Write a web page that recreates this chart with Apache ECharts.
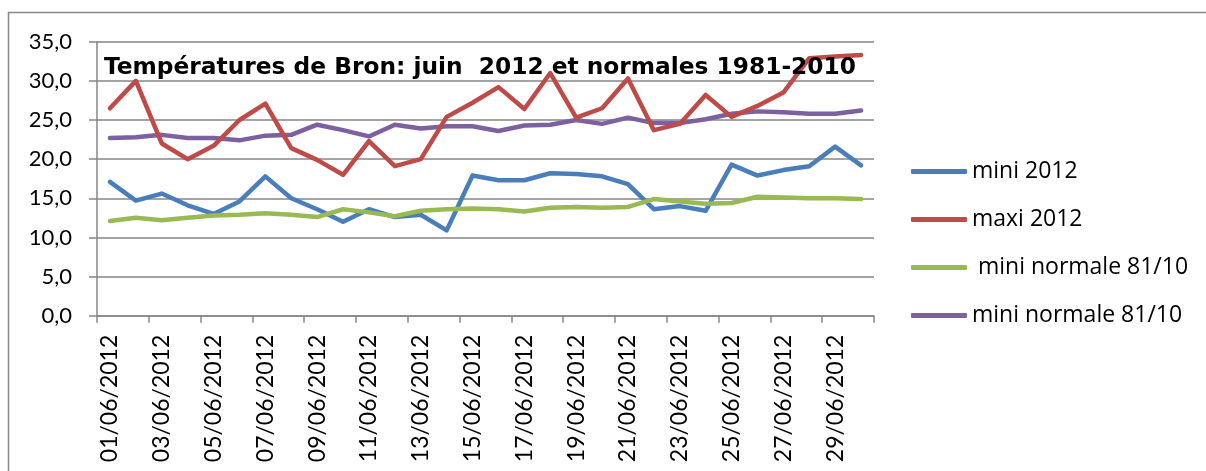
<!DOCTYPE html>
<html><head><meta charset="utf-8">
<script src="https://cdn.jsdelivr.net/npm/echarts@6/dist/echarts.min.js"></script>
<style>html,body{margin:0;padding:0;background:#fff}#c{width:1206px;height:471px}</style>
</head><body><div id="c"></div>
<script>
const categories = ['01/06/2012','02/06/2012','03/06/2012','04/06/2012','05/06/2012','06/06/2012','07/06/2012','08/06/2012','09/06/2012','10/06/2012','11/06/2012','12/06/2012','13/06/2012','14/06/2012','15/06/2012','16/06/2012','17/06/2012','18/06/2012','19/06/2012','20/06/2012','21/06/2012','22/06/2012','23/06/2012','24/06/2012','25/06/2012','26/06/2012','27/06/2012','28/06/2012','29/06/2012','30/06/2012'];
const mini2012 = [17.1,14.7,15.6,14.1,13.0,14.6,17.8,15.0,13.6,12.0,13.6,12.6,12.9,10.9,17.9,17.3,17.3,18.2,18.1,17.8,16.8,13.6,14.0,13.4,19.3,17.9,18.6,19.1,21.6,19.2];
const maxi2012 = [26.5,30.0,22.0,20.0,21.7,25.0,27.1,21.4,19.9,18.0,22.3,19.1,20.0,25.4,27.2,29.2,26.4,31.0,25.3,26.5,30.3,23.7,24.5,28.2,25.4,26.8,28.5,32.9,33.1,33.3];
const miniNormale = [12.1,12.5,12.2,12.5,12.8,12.9,13.1,12.9,12.6,13.6,13.2,12.7,13.4,13.6,13.7,13.6,13.3,13.8,13.9,13.8,13.9,14.9,14.6,14.3,14.4,15.2,15.1,15.0,15.0,14.9];
const maxiNormale = [22.7,22.8,23.1,22.7,22.7,22.4,23.0,23.1,24.4,23.7,22.9,24.4,23.9,24.2,24.2,23.6,24.3,24.4,25.0,24.5,25.3,24.6,24.6,25.1,25.8,26.1,26.0,25.8,25.8,26.2];
const seriesNames = ['mini 2012','maxi 2012',' mini normale 81/10','mini normale 81/10'];
const titleText = 'Températures de Bron: juin  2012 et normales 1981-2010';

const colors = ['#4a7ebb','#be4b48','#98b954','#7d60a0'];
const chart = echarts.init(document.getElementById('c'), null, {renderer:'canvas'});
const mk = (name, data, i) => ({
  name, type:'line', data, symbol:'none', smooth:false,
  lineStyle:{color:colors[i], width:4.5, cap:'round', join:'round'},
  itemStyle:{color:colors[i]}, z: 2 + (i===1?1:0)
});
chart.setOption({
  animation:false,
  textStyle:{fontFamily:'Lato'},
  title:{text:titleText, left:104, top:56, padding:0,
    textStyle:{fontFamily:'DejaVu Sans', fontWeight:'bold', fontSize:23.3, color:'#000'}},
  legend:{orient:'vertical', left:911, top:160, itemWidth:56, itemHeight:5, itemGap:25,
    icon:'roundRect', padding:0,
    textStyle:{fontFamily:'Open Sans', fontSize:23, color:'#000', lineHeight:23},
    data:seriesNames},
  graphic:[{type:'rect', shape:{x:8.5, y:12.5, width:1400, height:600},
    style:{fill:null, stroke:'#878787', lineWidth:1.5}, silent:true}],
  grid:{left:97, right:332, top:41.7, bottom:155.3, containLabel:false},
  xAxis:{type:'category', data:categories, boundaryGap:true,
    axisLine:{lineStyle:{color:'#868686', width:1.5}},
    axisTick:{show:true, length:7, interval:1, lineStyle:{color:'#868686', width:1.5}},
    axisLabel:{interval:1, rotate:90, margin:19, fontFamily:'Lato', fontSize:23, color:'#000'}},
  yAxis:{type:'value', min:0, max:35, interval:5,
    axisLine:{show:true, lineStyle:{color:'#868686', width:1.5}},
    axisTick:{show:true, length:8, lineStyle:{color:'#868686', width:1.5}},
    splitLine:{show:true, lineStyle:{color:'#868686', width:1.5}},
    axisLabel:{margin:25, fontFamily:'Lato', fontSize:22, color:'#000',
      formatter:v=>v.toFixed(1).replace('.', ',')}},
  series:[mk(seriesNames[0],mini2012,0), mk(seriesNames[1],maxi2012,1), mk(seriesNames[2],miniNormale,2), mk(seriesNames[3],maxiNormale,3)]
});
</script></body></html>
